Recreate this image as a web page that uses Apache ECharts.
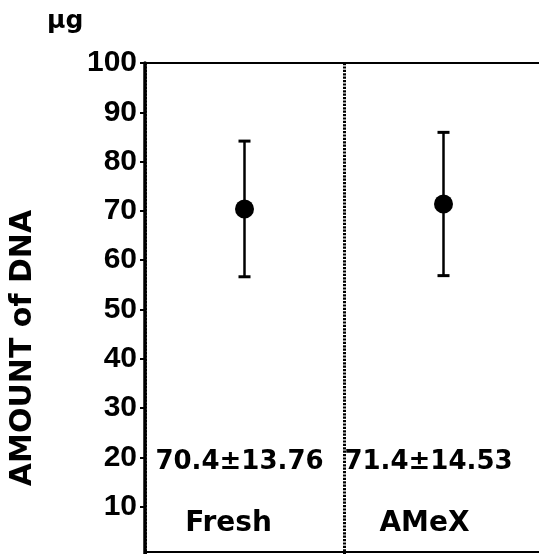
<!DOCTYPE html>
<html>
<head>
<meta charset="utf-8">
<script src="https://cdn.jsdelivr.net/npm/echarts@6/dist/echarts.min.js"></script>
<style>
html,body{margin:0;padding:0;background:#fff;}
#chart{width:539px;height:554px;}
</style>
</head>
<body>
<div id="chart"></div>
<script>
// ---- data ----
const categories = ['Fresh', 'AMeX'];
const means = [70.4, 71.4];
const sds = [13.76, 14.53];
const yMin = 0, yMax = 100, yInterval = 10;
const yUnit = 'μg';
const yTitle = 'AMOUNT of DNA';

// ---- layout constants ----
const STAT_LABEL_Y = 19;           // value level where the mean±SD text sits
const statOffsets = [[-5, 0], [-15, 0]];
const catPadRight = [32, 38];

const chart = echarts.init(document.getElementById('chart'), null, {renderer: 'canvas'});

const option = {
  backgroundColor: '#fff',
  animation: false,
  grid: {left: 145, width: 398, top: 63, height: 493, containLabel: false, outerBoundsMode: 'none',
         show: true, borderColor: '#000', borderWidth: 2, backgroundColor: 'transparent'},
  xAxis: {
    type: 'category',
    data: categories.map((c, i) => ({value: c, textStyle: {padding: [0, catPadRight[i], 0, 0]}})),
    boundaryGap: true,
    offset: -4,
    axisLine: {show: true, lineStyle: {color: '#000', width: 2}},
    axisTick: {show: false},
    axisLabel: {
      inside: true, margin: 14, color: '#000',
      fontFamily: 'DejaVu Sans', fontWeight: 'bold', fontSize: 28
    },
    splitLine: {show: true, lineStyle: {color: '#000', width: 3, type: [2.2, 1.2]}}
  },
  yAxis: {
    type: 'value', min: yMin, max: yMax, interval: yInterval,
    z: 6,
    axisLine: {show: true, lineStyle: {color: '#000', width: 3.5}},
    axisTick: {show: true, length: 5, lineStyle: {color: '#000', width: 2}},
    axisLabel: {
      showMinLabel: false, margin: 8, color: '#000',
      fontFamily: 'Liberation Sans', fontWeight: 'bold', fontSize: 30
    },
    splitLine: {show: false}
  },
  graphic: [
    {type: 'text', left: 47, top: 9, style: {text: yUnit, fill: '#000', font: 'bold 25px "DejaVu Sans"'}},
    {type: 'text', x: 23, y: 348, rotation: Math.PI / 2,
     style: {text: yTitle, fill: '#000', font: 'bold 30px "DejaVu Sans"', align: 'center', verticalAlign: 'middle'}}
  ],
  series: [
    {
      type: 'custom',
      renderItem: function (params, api) {
        const x = api.value(0);
        const pLo = api.coord([x, api.value(1)]);
        const pHi = api.coord([x, api.value(2)]);
        const w = 6;
        return {type: 'group', children: [
          {type: 'line', shape: {x1: pHi[0], y1: pHi[1], x2: pLo[0], y2: pLo[1]}, style: {stroke: '#000', lineWidth: 2.5}},
          {type: 'line', shape: {x1: pHi[0] - w, y1: pHi[1], x2: pHi[0] + w, y2: pHi[1]}, style: {stroke: '#000', lineWidth: 3}},
          {type: 'line', shape: {x1: pLo[0] - w, y1: pLo[1], x2: pLo[0] + w, y2: pLo[1]}, style: {stroke: '#000', lineWidth: 3}}
        ]};
      },
      data: categories.map((c, i) => [i, means[i] - sds[i], means[i] + sds[i]]),
      z: 3
    },
    {
      type: 'scatter',
      symbol: 'circle', symbolSize: 19,
      itemStyle: {color: '#000', opacity: 1},
      data: categories.map((c, i) => [i, means[i]]),
      z: 4
    },
    {
      type: 'scatter',
      symbolSize: 0,
      itemStyle: {opacity: 1},
      data: categories.map((c, i) => ({
        value: [i, STAT_LABEL_Y],
        label: {offset: statOffsets[i]}
      })),
      label: {
        show: true, position: 'inside', color: '#000',
        fontFamily: 'DejaVu Sans', fontWeight: 'bold', fontSize: 26,
        formatter: p => means[p.dataIndex].toFixed(1) + '±' + sds[p.dataIndex].toFixed(2)
      },
      z: 5
    }
  ]
};
chart.setOption(option);
</script>
</body>
</html>
